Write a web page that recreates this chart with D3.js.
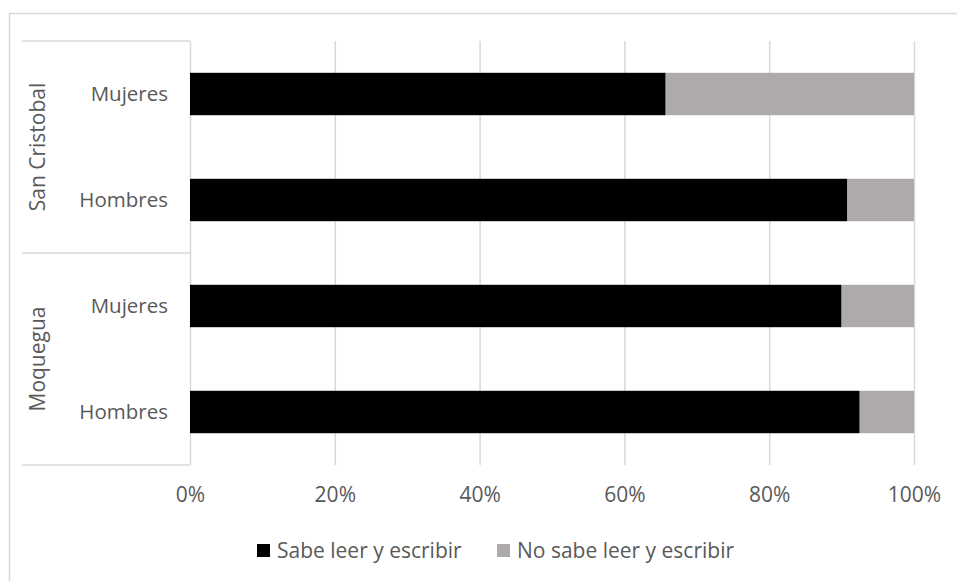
<!DOCTYPE html>
<html>
<head>
<meta charset="utf-8">
<script src="https://cdn.jsdelivr.net/npm/d3@7"></script>
<style>
  html, body { margin: 0; padding: 0; background: #fff; }
  svg { display: block; }
  text { font-family: "Open Sans", "Noto Sans", sans-serif; fill: #595959; }
</style>
</head>
<body>
<svg id="chart" width="957" height="581"></svg>
<script>
// ---- data ----
const groups = ["San Cristobal", "Moquegua"];
const categories = ["Mujeres", "Hombres", "Mujeres", "Hombres"];
const categoryGroups = ["San Cristobal", "San Cristobal", "Moquegua", "Moquegua"];
const seriesNames = ["Sabe leer y escribir", "No sabe leer y escribir"];
const sabeValues = [65.7, 90.8, 90.0, 92.5];
const noSabeValues = [34.3, 9.2, 10.0, 7.5];
const xTicks = [0, 20, 40, 60, 80, 100];
const colors = ["#000000", "#AEAAAA"];

// ---- build ----
const svg = d3.select("#chart");
const W = 957, H = 581;
const plot = { left: 190, right: 914, top: 41, bottom: 465 };
const gridColor = "#D9D9D9";

// outer frame (only top & left visible)
svg.append("rect").attr("x", 9.5).attr("y", 13.5).attr("width", W + 20).attr("height", H + 20)
  .attr("fill", "#fff").attr("stroke", "#D9D9D9").attr("stroke-width", 1.5);

const rows = categories.map((c, i) => ({ idx: i, cat: c, grp: categoryGroups[i], sabe: sabeValues[i], noSabe: noSabeValues[i] }));

const x = d3.scaleLinear().domain([0, 100]).range([plot.left, plot.right]);
const y = d3.scaleBand().domain(rows.map(r => r.idx)).range([plot.top, plot.bottom])
  .paddingInner(0.6).paddingOuter(0.3);

// gridlines via axis
const gAxis = svg.append("g").attr("transform", `translate(0,${plot.bottom})`)
  .call(d3.axisBottom(x).tickValues(xTicks).tickSize(-(plot.bottom - plot.top)).tickFormat(d => d + "%"));
gAxis.select(".domain").remove();
gAxis.selectAll(".tick line").attr("stroke", gridColor).attr("stroke-width", 1.5);
gAxis.selectAll(".tick text").attr("y", 30).attr("dy", "0.35em")
  .style("font-size", "21px").style("font-family", '"Open Sans", sans-serif').attr("fill", "#595959");

// stacked bars
const stack = d3.stack().keys(["sabe", "noSabe"]);
const stacked = stack(rows);
svg.append("g").selectAll("g").data(stacked).join("g")
  .attr("fill", (d, i) => colors[i])
  .selectAll("rect").data(d => d).join("rect")
  .attr("x", d => x(d[0]))
  .attr("width", d => x(d[1]) - x(d[0]))
  .attr("y", d => y(d.data.idx))
  .attr("height", y.bandwidth());

// category box lines
const boxLeft = 22;
const step = y.step();
const bounds = [plot.top];
groups.forEach(g => {
  const idxs = rows.filter(r => r.grp === g).map(r => r.idx);
  const last = idxs[idxs.length - 1];
  bounds.push(y(last) + y.bandwidth() / 2 + step / 2);
});
svg.append("g").selectAll("line").data(bounds).join("line")
  .attr("x1", boxLeft).attr("x2", plot.left)
  .attr("y1", d => d).attr("y2", d => d)
  .attr("stroke", gridColor).attr("stroke-width", 1.5);

// category labels
svg.append("g").selectAll("text").data(rows).join("text")
  .attr("x", 168).attr("y", d => y(d.idx) + y.bandwidth() / 2).attr("dy", "0.35em")
  .attr("text-anchor", "end").style("font-size", "20.5px")
  .text(d => d.cat);

// group labels (rotated)
groups.forEach((g, gi) => {
  const cy = (bounds[gi] + bounds[gi + 1]) / 2;
  svg.append("text")
    .attr("transform", `translate(38,${cy}) rotate(-90)`)
    .attr("text-anchor", "middle").attr("dy", "0.35em")
    .style("font-size", "21px")
    .text(g);
});

// legend
const legendItems = [
  { name: seriesNames[0], color: colors[0], x: 257 },
  { name: seriesNames[1], color: colors[1], x: 497 }
];
const lg = svg.append("g");
legendItems.forEach(it => {
  lg.append("rect").attr("x", it.x).attr("y", 544).attr("width", 13).attr("height", 13).attr("fill", it.color);
  lg.append("text").attr("x", it.x + 20).attr("y", 550.5).attr("dy", "0.35em")
    .style("font-size", "21px").text(it.name);
});
</script>
</body>
</html>
